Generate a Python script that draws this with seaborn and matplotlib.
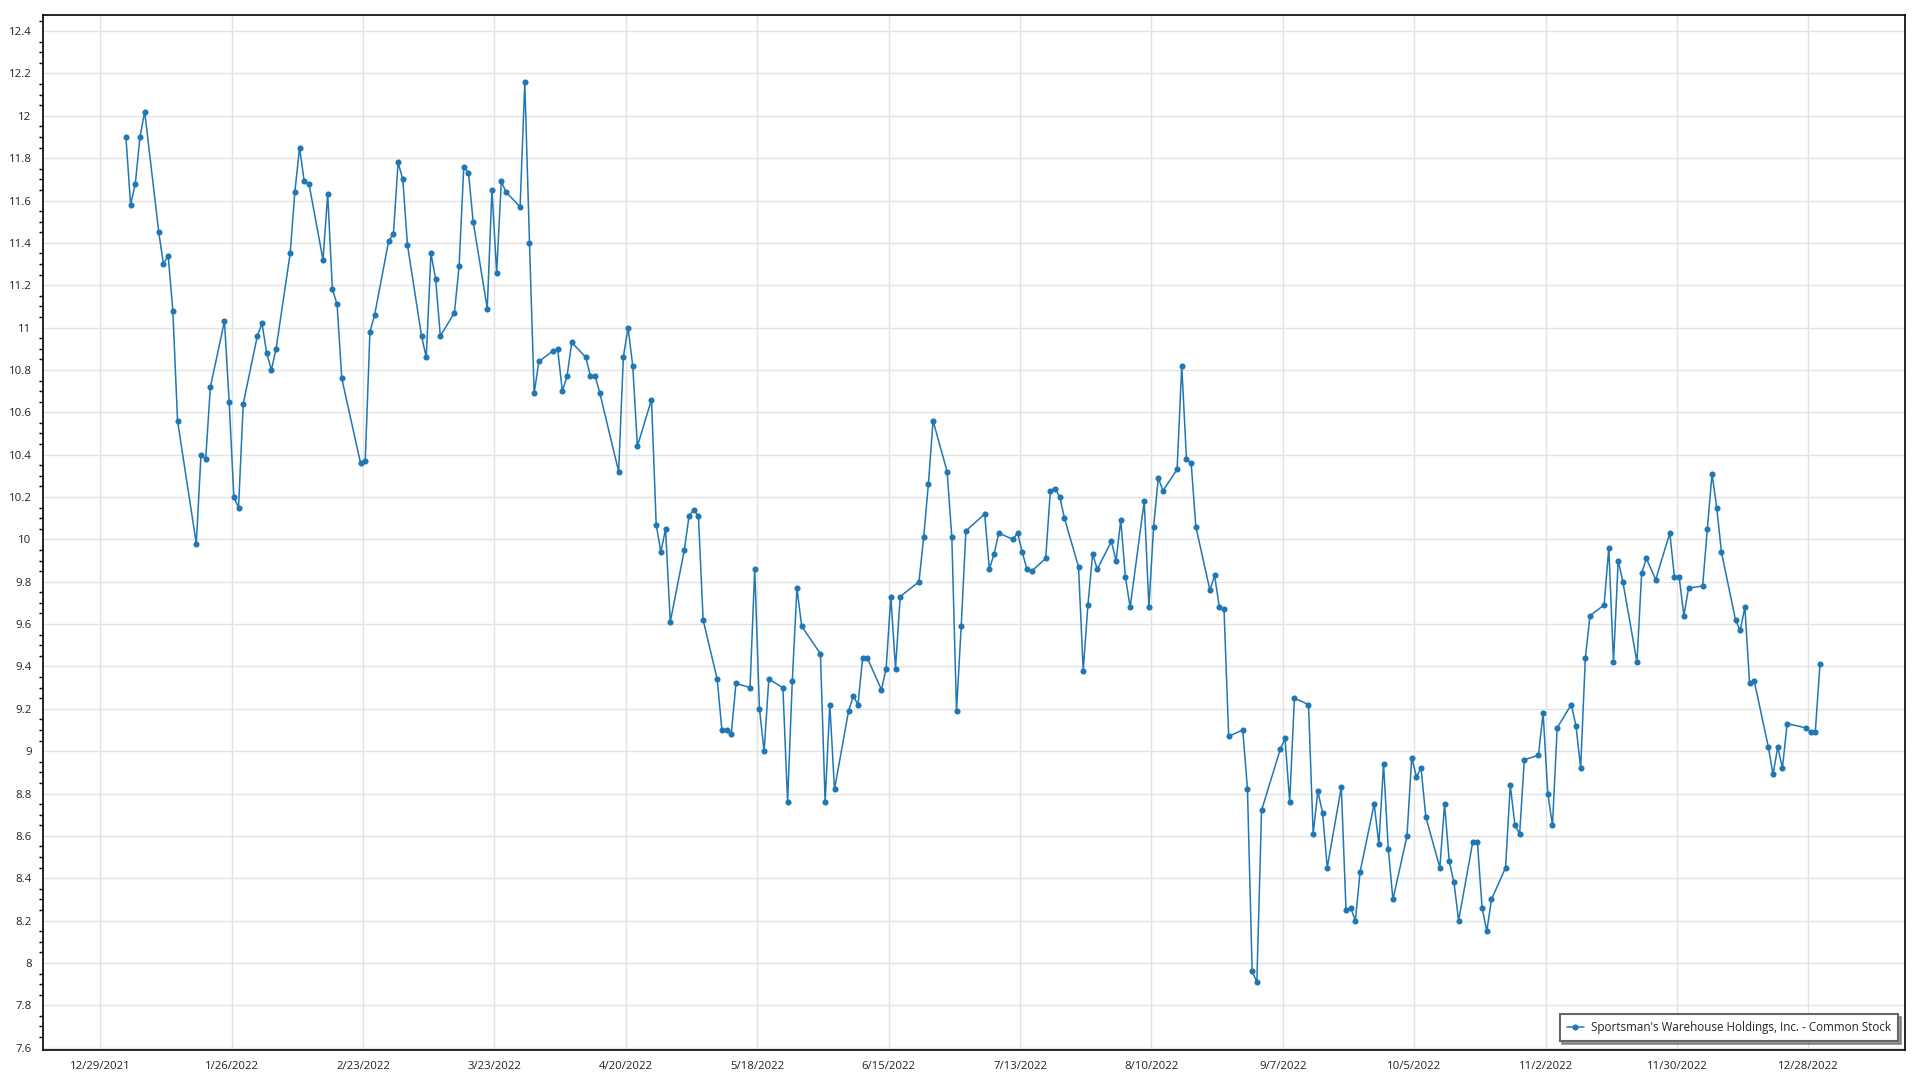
import matplotlib
matplotlib.use("Agg")
import matplotlib.pyplot as plt
import matplotlib.dates as mdates
from matplotlib.ticker import MultipleLocator, FuncFormatter
import seaborn as sns
import pandas as pd

# NYSE holidays 2022 (no trading)
holidays = ["2022-01-17", "2022-02-21", "2022-04-15", "2022-05-30", "2022-06-20",
            "2022-07-04", "2022-09-05", "2022-11-24", "2022-12-26"]

series_name = "Sportsman's Warehouse Holdings, Inc. - Common Stock"

# closing prices, month by month
jan = [11.90, 11.58, 11.68, 11.90, 12.02,
       11.45, 11.30, 11.34, 11.08, 10.56,
       9.98, 10.40, 10.38, 10.72,
       11.03, 10.65, 10.20, 10.15, 10.64,
       10.96]
feb = [11.02, 10.88, 10.80, 10.90,
       11.35, 11.64, 11.85, 11.69, 11.68,
       11.32, 11.63, 11.18, 11.11, 10.76,
       10.36, 10.37, 10.98, 11.06,
       11.41]
mar = [11.44, 11.78, 11.70, 11.39,
       10.96, 10.86, 11.35, 11.23, 10.96,
       11.07, 11.29, 11.76, 11.73, 11.50,
       11.09, 11.65, 11.26, 11.69, 11.64,
       11.57, 12.16, 11.40, 10.69]
apr = [10.84,
       10.89, 10.90, 10.70, 10.77, 10.93,
       10.86, 10.77, 10.77, 10.69,
       10.32, 10.86, 11.00, 10.82, 10.44,
       10.66, 10.07, 9.94, 10.05, 9.61]
may = [9.95, 10.11, 10.14, 10.11, 9.62,
       9.34, 9.10, 9.10, 9.08, 9.32,
       9.30, 9.86, 9.20, 9.00, 9.34,
       9.30, 8.76, 9.33, 9.77, 9.59,
       9.46]
jun = [8.76, 9.22, 8.82,
       9.19, 9.26, 9.22, 9.44, 9.44,
       9.29, 9.39, 9.73, 9.39, 9.73,
       9.80, 10.01, 10.26, 10.56,
       10.32, 10.01, 9.19, 9.59]
jul = [10.04,
       10.12, 9.86, 9.93, 10.03,
       10.00, 10.03, 9.94, 9.86, 9.85,
       9.91, 10.23, 10.24, 10.20, 10.10,
       9.87, 9.38, 9.69, 9.93, 9.86]
aug = [9.99, 9.90, 10.09, 9.82, 9.68,
       10.18, 9.68, 10.06, 10.29, 10.23,
       10.33, 10.82, 10.38, 10.36, 10.06,
       9.76, 9.83, 9.68, 9.67, 9.07,
       9.10, 8.82, 7.96]
sep = [7.91, 8.72,
       9.01, 9.06, 8.76, 9.25,
       9.22, 8.61, 8.81, 8.71, 8.45,
       8.83, 8.25, 8.26, 8.20, 8.43,
       8.75, 8.56, 8.94, 8.54, 8.30]
oct_ = [8.60, 8.97, 8.88, 8.92, 8.69,
        8.45, 8.75, 8.48, 8.38, 8.20,
        8.57, 8.57, 8.26, 8.15, 8.30,
        8.45, 8.84, 8.65, 8.61, 8.96,
        8.98]
nov = [9.18, 8.80, 8.65, 9.11,
       9.22, 9.12, 8.92, 9.44, 9.64,
       9.69, 9.96, 9.42, 9.90, 9.80,
       9.42, 9.84, 9.91, 9.81,
       10.03, 9.82, 9.82]
dec = [9.64, 9.77,
       9.78, 10.05, 10.31, 10.15, 9.94,
       9.62, 9.57, 9.68, 9.32, 9.33,
       9.02, 8.89, 9.02, 8.92, 9.13,
       9.11, 9.09, 9.09, 9.41]

prices = jan + feb + mar + apr + may + jun + jul + aug + sep + oct_ + nov + dec
trading_days = pd.bdate_range("2022-01-03", "2022-12-30", freq="C", holidays=holidays)

df = pd.DataFrame({"Date": trading_days + pd.Timedelta(hours=11), "Close": prices})

sns.set_style("white")
plt.rcParams["font.family"] = ["Open Sans", "DejaVu Sans"]

fig = plt.figure(figsize=(19.2, 10.8), dpi=100)
ax = fig.add_axes([0.0222, 0.0278, 0.97, 0.9583])

sns.lineplot(data=df, x="Date", y="Close", ax=ax, color="#1f77b4",
             linewidth=1.1, marker="o", markersize=4.4, markeredgewidth=0,
             label=series_name)

ax.set_xlim(pd.Timestamp("2021-12-16 17:00"), pd.Timestamp("2023-01-17 14:00"))
ax.set_ylim(7.589, 12.476)

tick_dates = pd.date_range("2021-12-29", "2022-12-28", freq="28D")
ax.set_xticks(tick_dates)
ax.xaxis.set_major_formatter(FuncFormatter(
    lambda v, _: (lambda d: f"{d.month}/{d.day}/{d.year}")(mdates.num2date(v))))
ax.yaxis.set_major_locator(MultipleLocator(0.2))
ax.yaxis.set_minor_locator(MultipleLocator(0.05))
ax.yaxis.set_major_formatter(FuncFormatter(lambda v, _: f"{round(v, 2):g}"))

ax.grid(True, which="major", color="#e3e3e3", linewidth=1)
ax.tick_params(axis="both", which="major", direction="out", length=5, width=1,
               color="black", labelsize=8.2, labelcolor="#222222", pad=3)
ax.tick_params(axis="y", which="minor", direction="out", length=3, width=1, color="black", left=True)
ax.tick_params(axis="x", which="minor", bottom=False)
for sp in ax.spines.values():
    sp.set_visible(True)
    sp.set_color("black")
    sp.set_linewidth(1.2)

ax.set_xlabel("")
ax.set_ylabel("")

leg = ax.legend(loc="lower right", fontsize=8.4, frameon=True, fancybox=False,
                shadow=True, borderpad=0.6, handlelength=1.5, handletextpad=0.6,
                borderaxespad=0, bbox_to_anchor=(1 - 7 / 1862, 9 / 1035))
leg.get_frame().set_edgecolor("#666666")
leg.get_frame().set_linewidth(1.5)

plt.savefig("out.png", dpi=100)
